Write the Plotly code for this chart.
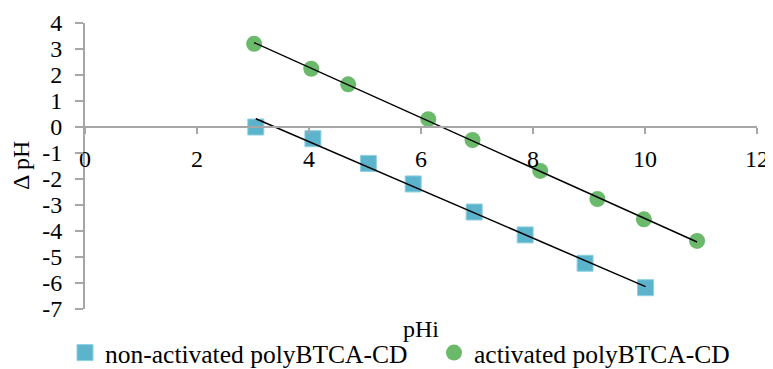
import numpy as np
import plotly.graph_objects as go

# Data
nonact_x = [3.05, 4.07, 5.06, 5.86, 6.95, 7.86, 8.93, 10.01]
nonact_y = [0.00, -0.45, -1.40, -2.19, -3.27, -4.15, -5.24, -6.18]
act_x = [3.02, 4.04, 4.70, 6.13, 6.92, 8.13, 9.15, 9.98, 10.93]
act_y = [3.20, 2.24, 1.64, 0.30, -0.50, -1.69, -2.77, -3.55, -4.38]

x_ticks = [0, 2, 4, 6, 8, 10, 12]
y_ticks = [4, 3, 2, 1, 0, -1, -2, -3, -4, -5, -6, -7]
y_ticktext = [str(v) for v in y_ticks]  # hyphen minus like the original

series_names = ["non-activated polyBTCA-CD", "activated polyBTCA-CD"]

FONT = "Liberation Serif"
BLUE = "#5BB4CC"
GREEN = "#6BBA6B"
AXIS = "#A6A6A6"

def trend(xs, ys):
    k, b = np.polyfit(xs, ys, 1)
    xx = np.array([min(xs), max(xs)])
    return xx, k * xx + b

fig = go.Figure()

fig.add_trace(go.Scatter(
    x=nonact_x, y=nonact_y, mode="markers", name=series_names[0],
    marker=dict(symbol="square", size=16, color=BLUE,
                line=dict(width=1, color="#8FD0E0")),
    legend="legend",
))
fig.add_trace(go.Scatter(
    x=act_x, y=act_y, mode="markers", name=series_names[1],
    marker=dict(symbol="circle", size=16, color=GREEN, line=dict(width=0)),
    legend="legend2",
))

tx, ty = trend(nonact_x, nonact_y)
fig.add_trace(go.Scatter(x=tx, y=ty, mode="lines", showlegend=False,
                         line=dict(color="black", width=1.5), hoverinfo="skip"))
tx, ty = trend(act_x, act_y)
fig.add_trace(go.Scatter(x=tx, y=ty, mode="lines", showlegend=False,
                         line=dict(color="black", width=1.5), hoverinfo="skip"))

legend_common = dict(
    orientation="h", xref="container", yref="paper",
    y=-0.154, xanchor="left", yanchor="middle",
    font=dict(family=FONT, size=25.5, color="black"),
    itemwidth=30, bgcolor="rgba(0,0,0,0)",
)

# page has an 8px body margin, so the figure is 765x361
fig.update_layout(
    template="none",
    width=765, height=361,
    margin=dict(l=77, r=16, t=15, b=60, autoexpand=False),
    paper_bgcolor="white", plot_bgcolor="white",
    font=dict(family=FONT, size=24, color="black"),
    showlegend=True,
    legend=dict(legend_common, x=57 / 765),
    legend2=dict(legend_common, x=426 / 765),
    xaxis=dict(
        range=[0, 12], tickvals=x_ticks, ticktext=[str(v) for v in x_ticks],
        anchor="free", position=7 / 11,
        showline=True, linecolor=AXIS, linewidth=2,
        ticks="outside", ticklen=6, tickwidth=2, tickcolor=AXIS,
        showgrid=False, zeroline=False,
        ticklabelstandoff=4,
        tickfont=dict(family=FONT, size=24, color="black"),
    ),
    yaxis=dict(
        range=[-7, 4], tickvals=y_ticks, ticktext=y_ticktext,
        showline=True, linecolor=AXIS, linewidth=2,
        ticks="outside", ticklen=8, tickwidth=2, tickcolor=AXIS,
        showgrid=False, zeroline=False,
        ticklabelstandoff=8,
        tickfont=dict(family=FONT, size=24, color="black"),
    ),
    annotations=[
        dict(text="pHi", xref="paper", yref="paper", x=0.5, y=-0.07,
             xanchor="center", yanchor="middle", showarrow=False,
             font=dict(family=FONT, size=24, color="black")),
        dict(text="Δ pH", xref="paper", yref="paper", x=(13 - 77) / 672, y=0.5,
             xanchor="center", yanchor="middle", showarrow=False, textangle=-90,
             font=dict(family=FONT, size=24, color="black")),
    ],
)

fig.write_html("out.html")
